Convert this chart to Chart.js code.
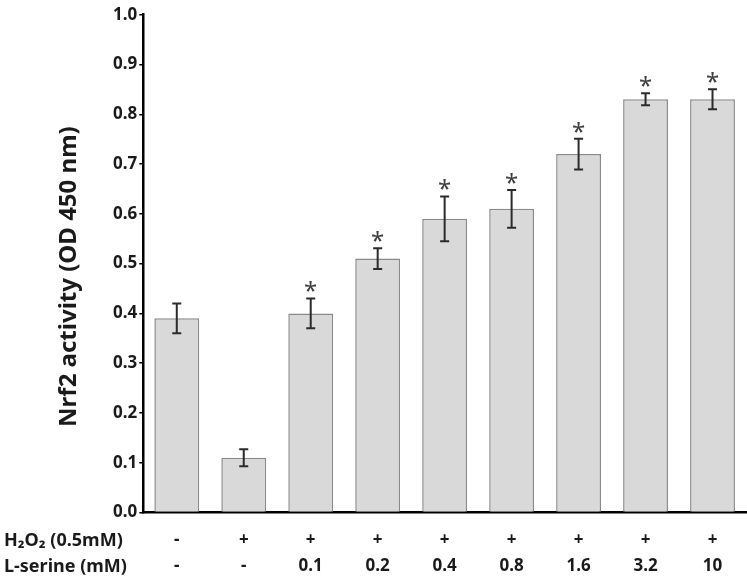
<!DOCTYPE html>
<html>
<head>
<meta charset="utf-8">
<script src="https://cdn.jsdelivr.net/npm/chart.js@4.4.1/dist/chart.umd.min.js"></script>
<style>
html,body{margin:0;padding:0;background:#fff;}
#wrap{width:747px;height:579px;}
</style>
</head>
<body>
<div id="wrap"><canvas id="c" width="747" height="579"></canvas></div>
<script>
const h2o2Labels = ['-', '+', '+', '+', '+', '+', '+', '+', '+'];
const serineLabels = ['-', '-', '0.1', '0.2', '0.4', '0.8', '1.6', '3.2', '10'];
const nrf2Values = [0.39, 0.11, 0.40, 0.51, 0.59, 0.61, 0.72, 0.83, 0.83];
const nrf2Errors = [0.030, 0.017, 0.030, 0.021, 0.045, 0.038, 0.031, 0.012, 0.020];
const significant = [false, false, true, true, true, true, true, true, true];
const rowTitles = ['H\u2082O\u2082 (0.5mM)', 'L-serine (mM)'];
const yAxisTitle = 'Nrf2 activity (OD 450 nm)';

const FONT = "'Noto Sans', 'Open Sans', sans-serif";

const errorBarPlugin = {
  id: 'errorBars',
  afterDatasetsDraw(chart) {
    const ctx = chart.ctx;
    const meta = chart.getDatasetMeta(0);
    const ys = chart.scales.y;
    ctx.save();
    meta.data.forEach((bar, i) => {
      const v = nrf2Values[i], e = nrf2Errors[i];
      const x = bar.x;
      const yt = ys.getPixelForValue(v + e);
      const yb = ys.getPixelForValue(v - e);
      ctx.strokeStyle = '#2b2b2b';
      ctx.lineWidth = 2;
      ctx.beginPath();
      ctx.moveTo(x, yt); ctx.lineTo(x, yb);
      ctx.moveTo(x - 4.5, yt); ctx.lineTo(x + 4.5, yt);
      ctx.moveTo(x - 4.5, yb); ctx.lineTo(x + 4.5, yb);
      ctx.stroke();
      if (significant[i]) {
        ctx.fillStyle = '#404040';
        ctx.font = "24px " + FONT;
        ctx.textAlign = 'center';
        ctx.textBaseline = 'alphabetic';
        ctx.fillText('*', x, yt + 1);
      }
    });
    ctx.restore();
  }
};

const titlesPlugin = {
  id: 'titles',
  afterDraw(chart) {
    const ctx = chart.ctx;
    const xs = chart.scales.x;
    const ys = chart.scales.y;
    ctx.save();
    ctx.fillStyle = '#1a1a1a';
    ctx.font = "bold 18px " + FONT;
    ctx.textAlign = 'left';
    ctx.textBaseline = 'middle';
    ctx.fillText(rowTitles[0], 4, xs.top + 28);
    ctx.fillText(rowTitles[1], 4, xs.top + 54);
    // y-axis title, rotated
    ctx.translate(69, (ys.top + ys.bottom) / 2 + 13);
    ctx.rotate(-Math.PI / 2);
    ctx.font = "bold 24px " + FONT;
    ctx.textAlign = 'center';
    ctx.fillText(yAxisTitle, 0, 0);
    ctx.restore();
  }
};

new Chart(document.getElementById('c'), {
  type: 'bar',
  data: {
    labels: h2o2Labels.map((h, i) => [h, serineLabels[i]]),
    datasets: [{
      data: nrf2Values,
      backgroundColor: '#d9d9d9',
      borderColor: '#8a8a8a',
      borderWidth: 1.5,
      categoryPercentage: 1.0,
      barPercentage: 0.67
    }]
  },
  options: {
    responsive: false,
    animation: false,
    devicePixelRatio: 1,
    layout: { padding: { top: 14.7, right: 1, bottom: 0, left: 0 } },
    plugins: { legend: { display: false }, tooltip: { enabled: false } },
    scales: {
      x: {
        grid: { display: false, drawTicks: false },
        border: { display: true, color: '#000', width: 2.5 },
        ticks: {
          color: '#1a1a1a',
          font: { family: FONT, size: 17, weight: 'bold', lineHeight: 26 / 17 },
          padding: 15,
          maxRotation: 0,
          autoSkip: false
        },
        afterFit(scale) { scale.height = 66.5; }
      },
      y: {
        min: 0, max: 1.0,
        grid: { drawOnChartArea: false, drawTicks: true, tickLength: 4, color: '#000', lineWidth: 1.5 },
        border: { display: true, color: '#000', width: 2.5 },
        ticks: {
          stepSize: 0.1,
          color: '#1a1a1a',
          padding: 2,
          font: { family: FONT, size: 17, weight: 'bold' },
          callback: (v) => Number(v).toFixed(1)
        },
        afterFit(scale) { scale.width = 143.3; }
      }
    }
  },
  plugins: [errorBarPlugin, titlesPlugin]
});
</script>
</body>
</html>
